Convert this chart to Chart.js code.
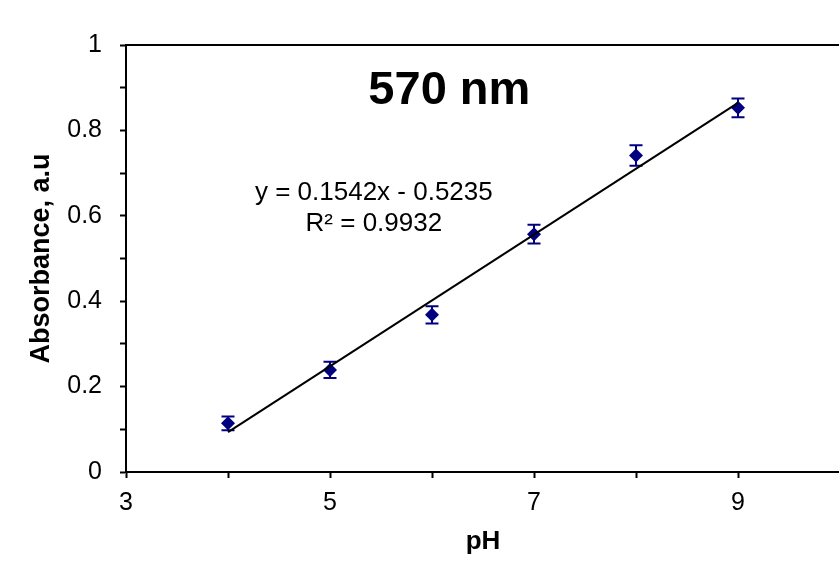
<!DOCTYPE html>
<html>
<head>
<meta charset="utf-8">
<script src="https://cdn.jsdelivr.net/npm/chart.js@4"></script>
<style>
  html, body { margin: 0; padding: 0; background: #fff; overflow: hidden; }
  #wrap { width: 850px; height: 568px; }
</style>
</head>
<body>
<div id="wrap"><canvas id="chart" width="850" height="568"></canvas></div>
<script>
const pH = [4, 5, 6, 7, 8, 9]
const absorbance = [0.114, 0.239, 0.368, 0.557, 0.741, 0.853]
const errors = [0.016, 0.019, 0.02, 0.022, 0.024, 0.022]

// Linear trendline end points
const trendX = [4, 9]
const trendY = [0.0933, 0.8643]

const chartTitle = '570 nm'
const equationLines = ['y = 0.1542x - 0.5235', 'R² = 0.9932']
const xTitle = 'pH'
const yTitle = 'Absorbance, a.u'

const FONT = "'Liberation Sans', Arial, Helvetica, sans-serif"
const NAVY = '#000080'

// Error bars, drawn through the scales
const errorBars = {
  id: 'errorBars',
  beforeDatasetsDraw(chart) {
    const { ctx, scales: { x, y } } = chart
    ctx.save()
    ctx.strokeStyle = NAVY
    ctx.lineWidth = 2
    pH.forEach((v, i) => {
      const px = x.getPixelForValue(v)
      const top = y.getPixelForValue(absorbance[i] + errors[i])
      const bot = y.getPixelForValue(absorbance[i] - errors[i])
      ctx.beginPath()
      ctx.moveTo(px, top)
      ctx.lineTo(px, bot)
      ctx.moveTo(px - 6.5, top)
      ctx.lineTo(px + 6.5, top)
      ctx.moveTo(px - 6.5, bot)
      ctx.lineTo(px + 6.5, bot)
      ctx.stroke()
    })
    ctx.restore()
  }
}

// Title and equation text placed inside the plot
const annotations = {
  id: 'annotations',
  afterDatasetsDraw(chart) {
    const { ctx, scales: { x, y } } = chart
    ctx.save()
    ctx.fillStyle = '#000'
    ctx.textAlign = 'center'
    ctx.textBaseline = 'alphabetic'
    ctx.font = `bold 47px ${FONT}`
    ctx.fillText(chartTitle, x.getPixelForValue(6.17), y.getPixelForValue(0.862))
    ctx.font = `26px ${FONT}`
    ctx.fillText(equationLines[0], x.getPixelForValue(5.43), y.getPixelForValue(0.637))
    ctx.fillText(equationLines[1], x.getPixelForValue(5.43), y.getPixelForValue(0.564))
    ctx.restore()
  }
}

new Chart(document.getElementById('chart').getContext('2d'), {
  type: 'scatter',
  data: {
    datasets: [
      {
        // trendline first so it sits on top of the markers
        type: 'line',
        data: trendX.map((v, i) => ({ x: v, y: trendY[i] })),
        borderColor: '#000',
        borderWidth: 2,
        pointRadius: 0,
        tension: 0
      },
      {
        data: pH.map((v, i) => ({ x: v, y: absorbance[i] })),
        pointStyle: 'rectRot',
        pointRadius: 7,
        pointBackgroundColor: NAVY,
        pointBorderWidth: 0,
        showLine: false
      }
    ]
  },
  options: {
    responsive: false,
    animation: false,
    layout: { padding: { top: 45, right: 8, left: 0, bottom: 0 } },
    scales: {
      x: {
        type: 'linear',
        min: 3,
        max: 10,
        afterFit: (axis) => { axis.height = 96 },
        ticks: {
          stepSize: 1,
          padding: 10,
          color: '#000',
          font: { family: FONT, size: 25 },
          callback: (v) => (v % 2 === 1 ? String(v) : '')
        },
        grid: {
          drawOnChartArea: false,
          drawTicks: true,
          tickLength: 6,
          tickWidth: 2,
          tickColor: '#000'
        },
        border: { color: '#000', width: 2 },
        title: {
          display: true,
          text: xTitle,
          color: '#000',
          font: { family: FONT, size: 26, weight: 'bold' },
          padding: { top: 0, bottom: 11 }
        }
      },
      xTop: {
        type: 'linear',
        position: 'top',
        min: 3,
        max: 10,
        afterFit: (axis) => { axis.height = 0 },
        ticks: { display: false },
        grid: { drawOnChartArea: false, drawTicks: false },
        border: { color: '#000', width: 2 }
      },
      y: {
        min: 0,
        max: 1,
        afterFit: (axis) => { axis.width = 126 },
        ticks: {
          stepSize: 0.1,
          padding: 18,
          color: '#000',
          font: { family: FONT, size: 25 },
          callback: (v) => {
            const n = Math.round(v * 10)
            return n % 2 === 0 ? String(n / 10) : ''
          }
        },
        grid: {
          drawOnChartArea: false,
          drawTicks: true,
          tickLength: 6,
          tickWidth: 2,
          tickColor: '#000'
        },
        border: { color: '#000', width: 2 },
        title: {
          display: true,
          text: yTitle,
          color: '#000',
          font: { family: FONT, size: 27, weight: 'bold' },
          padding: { top: 25, bottom: 0 }
        }
      }
    },
    plugins: {
      legend: { display: false },
      tooltip: { enabled: false }
    }
  },
  plugins: [errorBars, annotations]
})
</script>
</body>
</html>
